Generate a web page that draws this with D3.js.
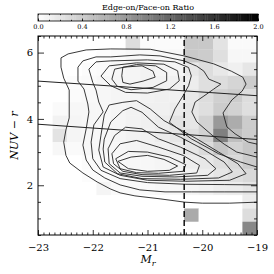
<!DOCTYPE html>
<html>
<head>
<meta charset="utf-8">
<script src="https://cdn.jsdelivr.net/npm/d3@7"></script>
<style>
body { margin: 0; background: #fff; }
svg { display: block; font-family: "DejaVu Serif", serif; }
</style>
</head>
<body>
<svg width="274" height="274"></svg>
<script>
// Edge-on / face-on ratio per cell, top row (NUV-r 6.1..6.5) first
var ratioGrid = [
    [0, 0, 0, 0, 0, 0, 0.27, 0.03, 0.03, 0.03, 0.43, 0.43, 0.22, 0.04, 0.04],
    [0, 0, 0, 0, 0.02, 0.04, 0.06, 0.05, 0.05, 0.06, 0.42, 0.4, 0.25, 0.06, 0.06],
    [0, 0, 0, 0.02, 0.04, 0.06, 0.08, 0.1, 0.08, 0.08, 0.18, 0.27, 0.18, 0.12, 0.2],
    [0, 0, 0.02, 0.04, 0.06, 0.08, 0.08, 0.1, 0.1, 0.12, 0.14, 0.25, 0.27, 0.33, 0.4],
    [0, 0, 0.03, 0.05, 0.06, 0.08, 0.08, 0.1, 0.12, 0.12, 0.18, 0.27, 0.37, 0.4, 0.27],
    [0, 0.04, 0.06, 0.06, 0.06, 0.08, 0.1, 0.12, 0.12, 0.15, 0.2, 0.25, 0.4, 0.35, 0.25],
    [0, 0.1, 0.08, 0.06, 0.06, 0.08, 0.1, 0.12, 0.15, 0.22, 0.2, 0.35, 0.8, 0.65, 0.4],
    [0, 0.22, 0.08, 0.06, 0.06, 0.08, 0.1, 0.1, 0.15, 0.2, 0.25, 0.35, 1.0, 0.5, 0.4],
    [0, 0.06, 0.04, 0.06, 0.06, 0.06, 0.08, 0.1, 0.12, 0.15, 0.2, 0.28, 0.45, 0.35, 0.45],
    [0, 0, 0, 0.03, 0.04, 0.05, 0.06, 0.06, 0.08, 0.1, 0.14, 0.18, 0.25, 0.3, 0.4],
    [0, 0, 0, 0.02, 0.03, 0.04, 0.05, 0.05, 0.06, 0.08, 0.1, 0.14, 0.2, 0.25, 0.3],
    [0, 0, 0, 0, 0.08, 0.04, 0.04, 0.05, 0.06, 0.06, 0.08, 0.1, 0.14, 0.15, 0.2],
    [0, 0, 0, 0, 0, 0, 0, 0, 0, 0, 0, 0, 0, 0, 0.15],
    [0, 0, 0, 0, 0, 0, 0, 0, 0, 0, 0.67, 0, 0, 0, 0.27],
    [0, 0, 0, 0, 0, 0, 0, 0, 0, 0, 0, 0, 0, 0, 0.93]
];
var magBins = { start: -23, width: 4 / 15 };
var colorBins = { top: 6.5, width: 0.4 };

var xTicks = [-23, -22, -21, -20, -19];
var yTicks = [2, 4, 6];
var barTicks = [0, 0.4, 0.8, 1.2, 1.6, 2.0];

// Contours (Mr, NUV-r); the first three run out of the right edge
var contourOuter = [[-19.0, 3.24], [-19.16, 3.3], [-19.4, 3.55], [-19.55, 3.76], [-19.62, 4.18], [-19.46, 4.57], [-19.27, 4.84], [-19.2, 5.05], [-19.26, 5.26], [-19.47, 5.44], [-19.79, 5.66], [-20.33, 5.9], [-20.95, 6.1], [-21.67, 6.11], [-22.12, 6.08], [-22.45, 5.96], [-22.58, 5.84], [-22.58, 5.56], [-22.53, 5.23], [-22.43, 4.87], [-22.43, 4.45], [-22.43, 4.03], [-22.49, 3.67], [-22.53, 3.3], [-22.49, 2.9], [-22.42, 2.67], [-22.18, 2.37], [-21.92, 2.1], [-21.68, 1.89], [-21.5, 1.77], [-21.23, 1.68], [-20.77, 1.59], [-20.32, 1.49], [-20.0, 1.46], [-19.5, 1.46], [-19.0, 1.49]];
var contourSecond = [[-19.0, 2.85], [-19.37, 3.0], [-19.6, 3.24], [-19.82, 3.51], [-20.1, 3.91], [-20.19, 4.21], [-20.13, 4.51], [-19.97, 4.69], [-19.79, 4.9], [-19.66, 5.05], [-19.88, 5.2], [-19.97, 5.44], [-20.1, 5.59], [-20.33, 5.75], [-20.77, 5.9], [-21.14, 5.93], [-21.67, 5.87], [-21.94, 5.87], [-22.18, 5.75], [-22.27, 5.56], [-22.27, 5.14], [-22.16, 4.9], [-22.09, 4.45], [-22.07, 4.21], [-22.12, 3.7], [-22.18, 3.21], [-22.12, 2.76], [-22.0, 2.46], [-21.78, 2.22], [-21.5, 2.01], [-21.14, 1.86], [-20.68, 1.8], [-20.2, 1.8], [-19.6, 1.8], [-19.0, 1.8]];
var contourThird = [[-19.0, 2.55], [-19.3, 2.7], [-19.7, 2.95], [-20.2, 3.4], [-20.6, 3.9], [-20.5, 4.3], [-20.35, 4.7], [-20.25, 5.0], [-20.2, 5.3], [-20.25, 5.55], [-20.5, 5.72], [-21.0, 5.78], [-21.67, 5.75], [-21.94, 5.72], [-22.07, 5.5], [-22.0, 5.1], [-21.94, 4.87], [-21.89, 4.51], [-21.81, 4.21], [-21.98, 3.82], [-22.03, 3.3], [-22.0, 2.8], [-21.85, 2.45], [-21.5, 2.2], [-21.0, 2.08], [-20.3, 2.03], [-19.6, 2.02], [-19.0, 2.01]];
// red sequence lobe
var contourRed1 = [[-21.7, 5.6], [-21.2, 5.69], [-20.7, 5.65], [-20.45, 5.45], [-20.42, 5.15], [-20.6, 4.9], [-21.0, 4.78], [-21.4, 4.8], [-21.67, 5.0], [-21.85, 5.29]];
var contourRed2 = [[-21.6, 5.5], [-21.2, 5.64], [-20.85, 5.6], [-20.65, 5.4], [-20.65, 5.15], [-20.9, 4.95], [-21.3, 4.88], [-21.55, 4.98], [-21.65, 5.2]];
var contourRed3 = [[-21.45, 5.56], [-21.1, 5.6], [-20.9, 5.44], [-20.86, 5.26], [-21.08, 5.14], [-21.32, 5.05], [-21.45, 5.1], [-21.47, 5.3]];
// blue cloud lobe
var contourBlue1 = [[-21.79, 4.12], [-21.7, 4.42], [-21.45, 4.5], [-21.2, 4.55], [-20.95, 4.3], [-20.7, 3.95], [-20.45, 3.72], [-20.1, 3.4], [-19.7, 3.0], [-19.35, 2.65], [-19.2, 2.35], [-19.5, 2.15], [-20.3, 2.12], [-21.0, 2.15], [-21.5, 2.3], [-21.81, 2.55], [-21.89, 3.06], [-21.85, 3.51]];
var contourBlue2 = [[-21.79, 3.39], [-21.67, 3.91], [-21.45, 4.25], [-21.3, 4.35], [-21.1, 4.2], [-20.8, 3.75], [-20.4, 3.45], [-20.0, 3.1], [-19.6, 2.7], [-19.45, 2.4], [-19.7, 2.22], [-20.4, 2.18], [-21.1, 2.2], [-21.55, 2.35], [-21.78, 2.7], [-21.81, 3.09]];
var contourBlue3 = [[-21.72, 3.1], [-21.6, 3.5], [-21.4, 3.75], [-21.1, 3.7], [-20.8, 3.4], [-20.4, 3.15], [-19.95, 2.8], [-19.75, 2.5], [-19.9, 2.3], [-20.5, 2.25], [-21.1, 2.27], [-21.5, 2.37], [-21.7, 2.65]];
var contourBlue4 = [[-21.65, 2.95], [-21.5, 3.25], [-21.2, 3.35], [-20.8, 3.15], [-20.35, 2.9], [-20.05, 2.6], [-20.1, 2.37], [-20.6, 2.3], [-21.1, 2.32], [-21.45, 2.42], [-21.62, 2.65]];
var contourBlue5 = [[-21.58, 2.8], [-21.35, 3.02], [-21.0, 3.0], [-20.6, 2.85], [-20.3, 2.62], [-20.35, 2.42], [-20.8, 2.36], [-21.2, 2.38], [-21.5, 2.5]];
var contourBlue6 = [[-21.54, 2.72], [-21.3, 2.85], [-21.0, 2.9], [-20.7, 2.78], [-20.45, 2.58], [-20.6, 2.45], [-21.0, 2.42], [-21.35, 2.5]];

var openContours = [contourOuter, contourSecond, contourThird];
var closedContours = [contourRed1, contourRed2, contourRed3, contourBlue1, contourBlue2, contourBlue3, contourBlue4, contourBlue5, contourBlue6];

// straight dividing lines and the magnitude cut
var upperLine = [[-23, 5.14], [-19, 4.70]];
var lowerLine = [[-23, 3.84], [-19, 3.38]];
var magCut = -20.33;

var xScale = d3.scaleLinear().domain([-23, -19]).range([38, 257]);
var yScale = d3.scaleLinear().domain([0.5, 6.5]).range([235, 36]);
var grayScale = d3.scaleLinear().domain([0, 2]).range(["#ffffff", "#000000"]).clamp(true);
var barScale = d3.scaleLinear().domain([0, 2]).range([38, 258]);

var svg = d3.select("svg");

svg.append("clipPath").attr("id", "plotClip")
    .append("rect")
    .attr("x", xScale(-23)).attr("y", yScale(6.5))
    .attr("width", xScale(-19) - xScale(-23))
    .attr("height", yScale(0.5) - yScale(6.5));

var plot = svg.append("g").attr("clip-path", "url(#plotClip)");

// Ratio cells
var cells = [];
ratioGrid.forEach(function (row, i) {
    row.forEach(function (v, j) {
        cells.push({ row: i, col: j, value: v });
    });
});

plot.selectAll("rect.cell")
    .data(cells)
    .enter()
    .append("rect")
    .attr("class", "cell")
    .attr("x", d => xScale(magBins.start + d.col * magBins.width))
    .attr("y", d => yScale(colorBins.top - d.row * colorBins.width))
    .attr("width", d => xScale(magBins.start + (d.col + 1) * magBins.width) - xScale(magBins.start + d.col * magBins.width) + 0.3)
    .attr("height", d => yScale(colorBins.top - (d.row + 1) * colorBins.width) - yScale(colorBins.top - d.row * colorBins.width) + 0.3)
    .attr("fill", d => grayScale(d.value));

var line = d3.line().x(d => xScale(d[0])).y(d => yScale(d[1]));
var closedLine = d3.line().x(d => xScale(d[0])).y(d => yScale(d[1])).curve(d3.curveLinearClosed);

// Contours
plot.selectAll("path.open")
    .data(openContours)
    .enter()
    .append("path")
    .attr("class", "open")
    .attr("d", line)
    .attr("fill", "none")
    .attr("stroke", "#222")
    .attr("stroke-width", 0.9);

plot.selectAll("path.closed")
    .data(closedContours)
    .enter()
    .append("path")
    .attr("class", "closed")
    .attr("d", closedLine)
    .attr("fill", "none")
    .attr("stroke", "#222")
    .attr("stroke-width", 0.9);

// Dividing lines
plot.selectAll("path.divider")
    .data([upperLine, lowerLine])
    .enter()
    .append("path")
    .attr("class", "divider")
    .attr("d", line)
    .attr("fill", "none")
    .attr("stroke", "#222")
    .attr("stroke-width", 1);

// Magnitude cut
plot.append("line")
    .attr("x1", xScale(magCut)).attr("x2", xScale(magCut))
    .attr("y1", yScale(0.5)).attr("y2", yScale(6.5))
    .attr("stroke", "#000")
    .attr("stroke-width", 1.4)
    .attr("stroke-dasharray", "6,3");

// Axes
var xMinor = d3.range(-23, -18.95, 0.1).filter(v => Math.abs(v - Math.round(v)) > 0.01);
var yMinor = d3.range(0.5, 6.55, 0.5).filter(v => Math.abs(v / 2 - Math.round(v / 2)) > 0.01);

function styleAxis(g) {
    g.select(".domain").remove();
    g.selectAll("line").attr("stroke", "#000").attr("stroke-width", 0.8);
    g.selectAll("text").attr("font-family", "DejaVu Serif").attr("font-size", 10).attr("fill", "#000");
}

svg.append("g").attr("transform", "translate(0," + yScale(0.5) + ")")
    .call(d3.axisBottom(xScale).tickValues(xTicks).tickSize(-5).tickPadding(9).tickFormat(d3.format("d")))
    .call(styleAxis);
svg.append("g").attr("transform", "translate(0," + yScale(0.5) + ")")
    .call(d3.axisBottom(xScale).tickValues(xMinor).tickSize(-2.5).tickFormat(""))
    .call(styleAxis);
svg.append("g").attr("transform", "translate(0," + yScale(6.5) + ")")
    .call(d3.axisTop(xScale).tickValues(xTicks).tickSize(-5).tickFormat(""))
    .call(styleAxis);
svg.append("g").attr("transform", "translate(0," + yScale(6.5) + ")")
    .call(d3.axisTop(xScale).tickValues(xMinor).tickSize(-2.5).tickFormat(""))
    .call(styleAxis);

svg.append("g").attr("transform", "translate(" + xScale(-23) + ",0)")
    .call(d3.axisLeft(yScale).tickValues(yTicks).tickSize(-6).tickPadding(5).tickFormat(d3.format("d")))
    .call(styleAxis);
svg.append("g").attr("transform", "translate(" + xScale(-23) + ",0)")
    .call(d3.axisLeft(yScale).tickValues(yMinor).tickSize(-3).tickFormat(""))
    .call(styleAxis);
svg.append("g").attr("transform", "translate(" + xScale(-19) + ",0)")
    .call(d3.axisRight(yScale).tickValues(yTicks).tickSize(-6).tickFormat(""))
    .call(styleAxis);
svg.append("g").attr("transform", "translate(" + xScale(-19) + ",0)")
    .call(d3.axisRight(yScale).tickValues(yMinor).tickSize(-3).tickFormat(""))
    .call(styleAxis);

// Frame
svg.append("rect")
    .attr("x", xScale(-23)).attr("y", yScale(6.5))
    .attr("width", xScale(-19) - xScale(-23))
    .attr("height", yScale(0.5) - yScale(6.5))
    .attr("fill", "none")
    .attr("stroke", "#000")
    .attr("stroke-width", 1);

// Axis titles
var xTitle = svg.append("text")
    .attr("x", 148).attr("y", 263)
    .attr("text-anchor", "middle")
    .attr("font-family", "DejaVu Serif")
    .attr("font-style", "italic")
    .attr("font-size", 11);
xTitle.append("tspan").text("M");
xTitle.append("tspan").attr("dy", 2.5).attr("font-size", 8).text("r");

svg.append("text")
    .attr("transform", "translate(18," + yScale(3.5) + ") rotate(-90)")
    .attr("text-anchor", "middle")
    .attr("font-family", "DejaVu Serif")
    .attr("font-style", "italic")
    .attr("font-size", 11)
    .text("NUV \u2212 r");

// Colour bar
var barSteps = d3.range(0, 2, 0.02);
svg.selectAll("rect.bar")
    .data(barSteps)
    .enter()
    .append("rect")
    .attr("class", "bar")
    .attr("x", d => barScale(d))
    .attr("y", 14)
    .attr("width", barScale(0.02) - barScale(0) + 0.4)
    .attr("height", 7)
    .attr("fill", d => grayScale(d + 0.01));

var barMinor = d3.range(0, 2.01, 0.1);
svg.append("g").attr("transform", "translate(0,21)")
    .call(d3.axisBottom(barScale).tickValues(barTicks).tickSize(-2.5).tickPadding(3).tickFormat(d3.format(".1f")))
    .call(styleAxis)
    .selectAll("text").attr("font-size", 6.5);
svg.append("g").attr("transform", "translate(0,21)")
    .call(d3.axisBottom(barScale).tickValues(barMinor).tickSize(-1.2).tickFormat(""))
    .call(styleAxis);
svg.append("g").attr("transform", "translate(0,14)")
    .call(d3.axisTop(barScale).tickValues(barMinor).tickSize(-1.2).tickFormat(""))
    .call(styleAxis);

svg.append("rect")
    .attr("x", barScale(0)).attr("y", 14)
    .attr("width", barScale(2) - barScale(0)).attr("height", 7)
    .attr("fill", "none").attr("stroke", "#000").attr("stroke-width", 0.8);

svg.append("text")
    .attr("x", 148).attr("y", 9.5)
    .attr("text-anchor", "middle")
    .attr("font-family", "DejaVu Serif")
    .attr("font-size", 8)
    .text("Edge-on/Face-on Ratio");
</script>
</body>
</html>
